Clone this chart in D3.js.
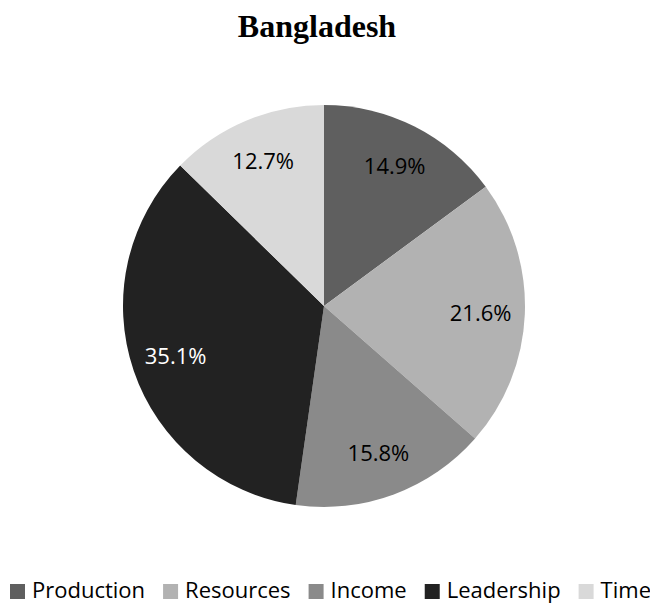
<!DOCTYPE html>
<html>
<head>
<meta charset="utf-8">
<script src="https://cdnjs.cloudflare.com/ajax/libs/d3/7.8.5/d3.min.js"></script>
<style>
  body { margin: 0; background: #fff; }
  svg { display: block; }
</style>
</head>
<body>
<svg id="chart" width="650" height="605"></svg>
<script>
// data
var title = "Bangladesh";
var categories = ["Production", "Resources", "Income", "Leadership", "Time"];
var values = [14.9, 21.6, 15.8, 35.1, 12.7];
var colors = ["#5f5f5f", "#b2b2b2", "#8a8a8a", "#222222", "#d9d9d9"];
var labelColors = ["#000", "#000", "#000", "#fff", "#000"];

var svg = d3.select("#chart");
var width = +svg.attr("width");
var height = +svg.attr("height");

var cx = 324, cy = 306, radius = 201;

svg.append("text")
    .attr("x", 317)
    .attr("y", 37)
    .attr("text-anchor", "middle")
    .style("font-family", "'Liberation Serif', 'Times New Roman', serif")
    .style("font-weight", "bold")
    .style("font-size", "32px")
    .text(title);

var rows = categories.map(function(c, i) {
  return { name: c, value: values[i], color: colors[i], labelColor: labelColors[i] };
});

var pie = d3.pie()
    .sort(null)
    .value(function(d) { return d.value; });

var arc = d3.arc()
    .innerRadius(0)
    .outerRadius(radius);

var labelArc = d3.arc()
    .innerRadius(radius * 0.78)
    .outerRadius(radius * 0.78);

var g = svg.append("g")
    .attr("transform", "translate(" + cx + "," + cy + ")");

var arcs = pie(rows);

g.selectAll(".slice")
  .data(arcs)
  .enter()
  .append("path")
    .attr("class", "slice")
    .attr("d", arc)
    .attr("fill", function(d) { return d.data.color; });

g.selectAll(".label")
  .data(arcs)
  .enter()
  .append("text")
    .attr("class", "label")
    .attr("transform", function(d) { return "translate(" + labelArc.centroid(d) + ")"; })
    .attr("text-anchor", "middle")
    .attr("dy", "0.36em")
    .attr("fill", function(d) { return d.data.labelColor; })
    .style("font-family", "'Open Sans', sans-serif")
    .style("font-size", "22px")
    .text(function(d) { return d.data.value.toFixed(1) + "%"; });

// legend, laid out from measured text widths
var legendFont = 22;
var box = 15;
var boxGap = 7;
var itemGap = 18;
var legend = svg.append("g").attr("class", "legend");

var items = legend.selectAll(".legend-item")
  .data(rows)
  .enter()
  .append("g")
    .attr("class", "legend-item");

items.append("rect")
    .attr("width", box)
    .attr("height", box)
    .attr("y", -box + 1)
    .attr("fill", function(d) { return d.color; });

items.append("text")
    .attr("x", box + boxGap)
    .attr("y", 0)
    .style("font-family", "'Open Sans', sans-serif")
    .style("font-size", legendFont + "px")
    .attr("fill", "#000")
    .text(function(d) { return d.name; });

var xPos = 10;
items.each(function() {
  var item = d3.select(this);
  item.attr("transform", "translate(" + xPos + ",598)");
  var w = item.select("text").node().getComputedTextLength();
  xPos += box + boxGap + w + itemGap;
});
</script>
</body>
</html>
